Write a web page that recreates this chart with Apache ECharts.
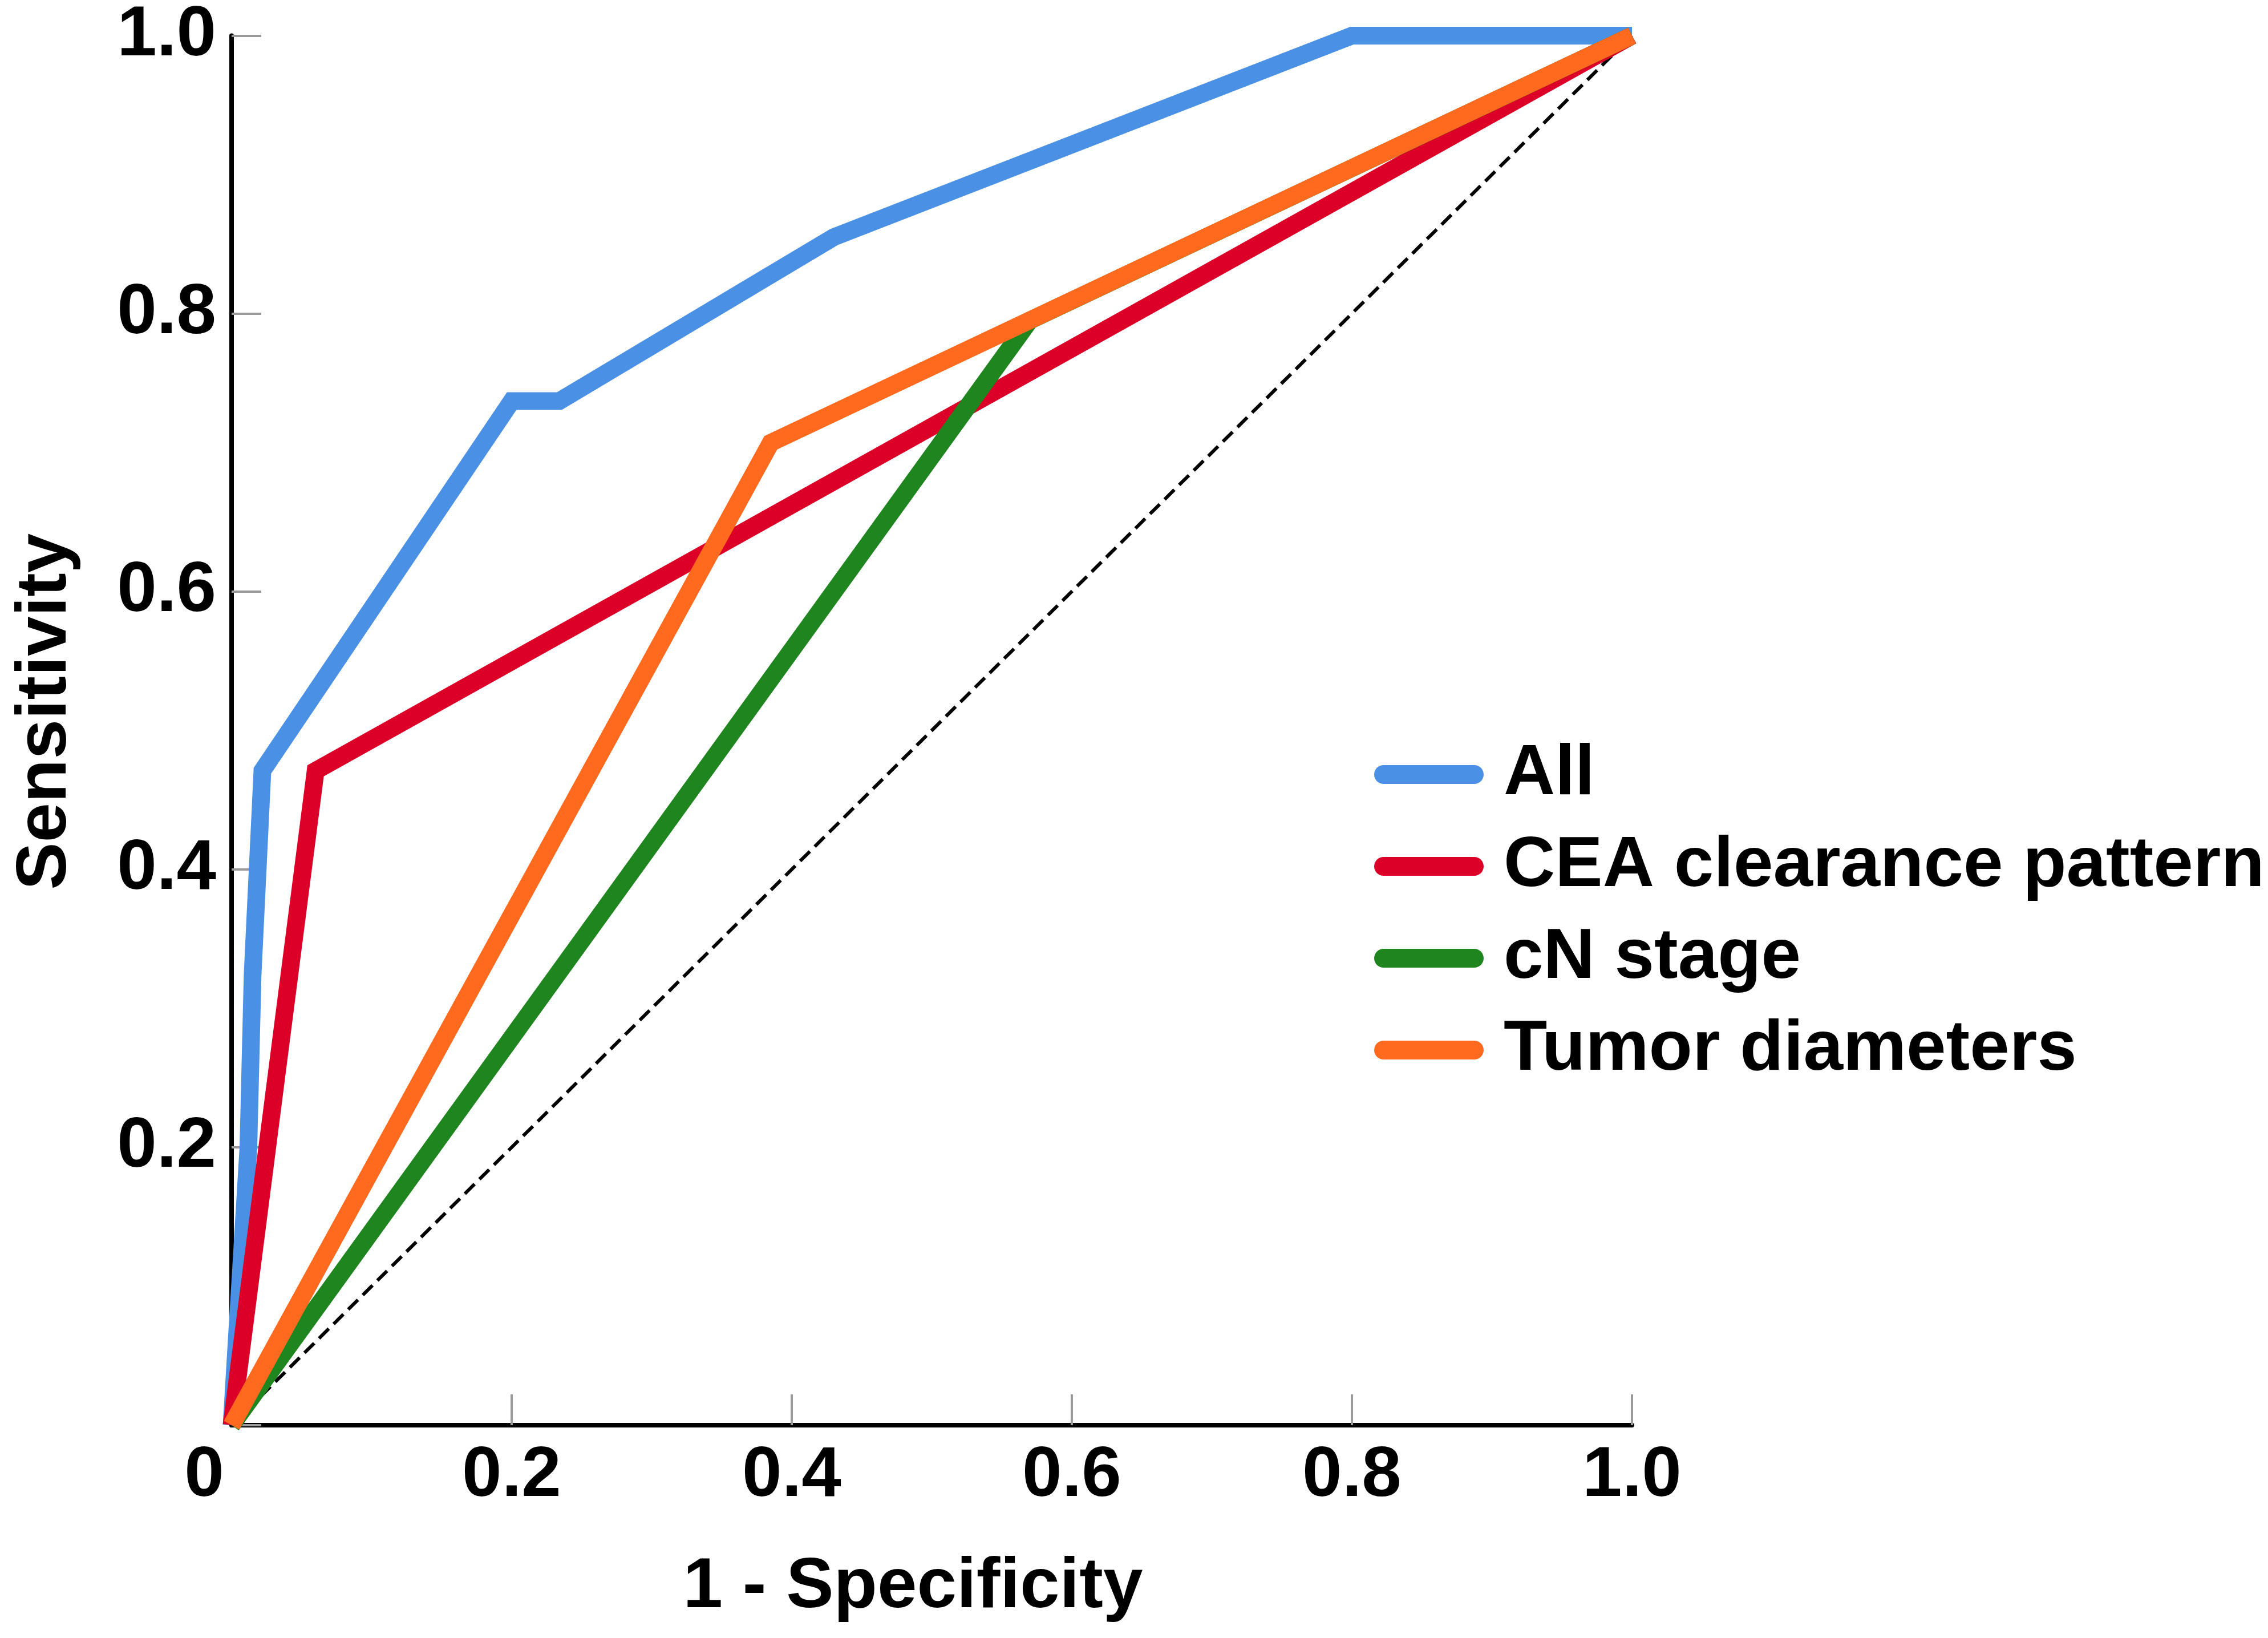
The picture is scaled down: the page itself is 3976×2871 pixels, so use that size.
<!DOCTYPE html>
<html>
<head>
<meta charset="utf-8"/>
<title>ROC curves</title>
<script src="https://cdn.jsdelivr.net/npm/echarts@6/dist/echarts.min.js"></script>
<style>
  html, body { margin: 0; padding: 0; background: #fff; }
  #main { width: 3976px; height: 2871px; }
</style>
</head>
<body>
<div id="main"></div>
<script type="text/javascript">
// values (1 - specificity, sensitivity)
var seriesNames = ['All', 'CEA clearance pattern', 'cN stage', 'Tumor diameters'];
var allX = [0, 0.012, 0.015, 0.022, 0.2, 0.234, 0.43, 0.8, 1];
var allY = [0, 0.2, 0.324, 0.471, 0.737, 0.737, 0.855, 1, 1];
var ceaX = [0, 0.06, 1];
var ceaY = [0, 0.471, 1];
var cnX = [0, 0.57, 1];
var cnY = [0, 0.795, 1];
var tumorX = [0, 0.385, 1];
var tumorY = [0, 0.707, 1];
var refX = [0, 1];
var refY = [0, 1];

function pairs(xs, ys) {
    var out = [];
    for (var i = 0; i < xs.length; i++) out.push([xs[i], ys[i]]);
    return out;
}

var font = 'Liberation Sans, Arial, sans-serif';
var dom = document.getElementById('main');
var myChart = echarts.init(dom);

function rocLine(name, xs, ys, color) {
    return {
        name: name,
        type: 'line',
        data: pairs(xs, ys),
        showSymbol: false,
        symbol: 'none',
        clip: false,
        lineStyle: { color: color, width: 31, join: 'miter' },
        itemStyle: { color: color },
        z: 3
    };
}

var option = {
    backgroundColor: '#ffffff',
    animation: false,
    grid: { left: 406, right: 1115, top: 56, bottom: 373 },
    legend: {
        data: seriesNames,
        orient: 'vertical',
        left: 2404,
        top: 1290,
        itemWidth: 192,
        itemHeight: 34,
        itemGap: 36,
        icon: 'path://M5,0H53A5,5 0 0 1 53,10H5A5,5 0 0 1 5,0Z',
        textStyle: {
            fontFamily: font,
            fontWeight: 'bold',
            fontSize: 125,
            lineHeight: 125,
            color: '#000',
            padding: [0, 0, 0, 30]
        }
    },
    xAxis: {
        type: 'value',
        min: 0,
        max: 1,
        interval: 0.2,
        name: '1 - Specificity',
        nameLocation: 'middle',
        nameGap: 222,
        nameTextStyle: {
            fontFamily: font, fontWeight: 'bold', fontSize: 125, lineHeight: 125, color: '#000',
            padding: [0, 66, 0, 0]
        },
        axisLine: { lineStyle: { color: '#000', width: 8 } },
        axisTick: { inside: true, length: 54, lineStyle: { color: '#9a9a9a', width: 4 } },
        splitLine: { show: false },
        axisLabel: {
            margin: 27,
            fontFamily: font,
            fontWeight: 'bold',
            fontSize: 125,
            lineHeight: 125,
            color: '#000',
            formatter: function (v) {
                if (v === 0) return '{z|0}';
                return v.toFixed(1);
            },
            rich: {
                z: { fontFamily: font, fontWeight: 'bold', fontSize: 125, lineHeight: 125, color: '#000', padding: [0, 96, 0, 0] }
            }
        }
    },
    yAxis: {
        type: 'value',
        min: 0,
        max: 1,
        interval: 0.2,
        name: 'Sensitivity',
        nameLocation: 'middle',
        nameGap: 263,
        nameTextStyle: {
            fontFamily: font, fontWeight: 'bold', fontSize: 125, lineHeight: 125, color: '#000',
            padding: [0, 0, 0, 66]
        },
        axisLine: { lineStyle: { color: '#000', width: 8 } },
        axisTick: { inside: true, length: 52, lineStyle: { color: '#9a9a9a', width: 4 } },
        splitLine: { show: false },
        axisLabel: {
            margin: 27,
            fontFamily: font,
            fontWeight: 'bold',
            fontSize: 125,
            color: '#000',
            formatter: function (v) {
                if (v === 0) return '';
                return v.toFixed(1);
            }
        }
    },
    series: [
        {
            name: 'reference',
            type: 'line',
            data: pairs(refX, refY),
            symbol: 'none',
            clip: false,
            lineStyle: { color: '#000', width: 6, type: [24, 12] },
            z: 2
        },
        rocLine(seriesNames[0], allX, allY, '#4a91e6'),
        rocLine(seriesNames[1], ceaX, ceaY, '#dc0028'),
        rocLine(seriesNames[2], cnX, cnY, '#1f861f'),
        rocLine(seriesNames[3], tumorX, tumorY, '#ff6a1e')
    ]
};

myChart.setOption(option);
</script>
</body>
</html>
